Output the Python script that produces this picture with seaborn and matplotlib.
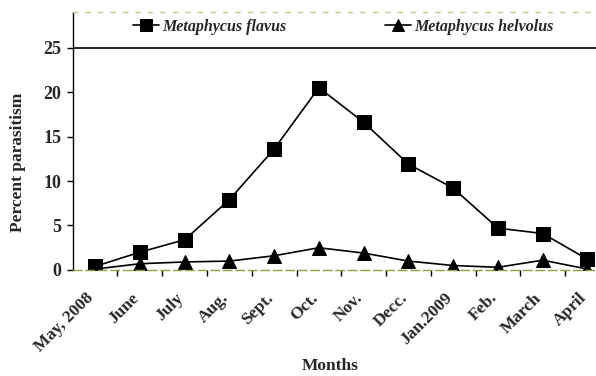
import matplotlib
matplotlib.use("Agg")
import matplotlib.pyplot as plt
import matplotlib.transforms as mtransforms
import seaborn as sns
import pandas as pd
from matplotlib.ticker import FixedLocator, NullFormatter

months = ["May, 2008", "June", "July", "Aug.", "Sept.", "Oct.", "Nov.", "Decc.",
          "Jan.2009", "Feb.", "March", "April"]
flavus = [0.4, 2.0, 3.4, 7.9, 13.6, 20.5, 16.6, 11.9, 9.2, 4.7, 4.1, 1.2]
helvolus = [0.1, 0.7, 0.9, 1.0, 1.6, 2.5, 1.9, 1.0, 0.5, 0.3, 1.1, 0.1]
yticks = [0, 5, 10, 15, 20, 25]

sns.set_theme(style="white")
plt.rcParams['font.family'] = ['Liberation Serif', 'DejaVu Serif']

df = pd.DataFrame({"x": list(range(len(months))) * 2,
                   "y": flavus + helvolus,
                   "series": ["Metaphycus flavus"] * len(months) + ["Metaphycus helvolus"] * len(months)})

fig = plt.figure(figsize=(5.96, 3.76), dpi=100)
ax = fig.add_axes([0.122, 0.282, 0.89, 0.686])

sns.lineplot(data=df[df.series == "Metaphycus flavus"], x="x", y="y", ax=ax,
             color="black", marker="s", markersize=10, linewidth=1.2,
             markeredgecolor="black", label="Metaphycus flavus")
sns.lineplot(data=df[df.series == "Metaphycus helvolus"], x="x", y="y", ax=ax,
             color="black", marker="^", markersize=10, linewidth=1.2,
             markeredgecolor="black", label="Metaphycus helvolus")

ax.set_xlim(-0.5, 11.35)
ax.set_ylim(0, 29)
ax.axhline(25, color="black", linewidth=1.2)

ax.set_yticks(yticks)
ax.set_yticklabels([str(v) for v in yticks], fontsize=13, fontweight="bold")
ax.set_xticks(range(len(months)))
ax.xaxis.set_major_formatter(NullFormatter())
offset = mtransforms.ScaledTranslation(-9 / 100, -20 / 100, fig.dpi_scale_trans)
for i, m in enumerate(months):
    ax.text(i, 0, m, transform=ax.get_xaxis_transform() + offset, rotation=45,
            ha="right", va="top", rotation_mode="anchor", fontsize=12.5, fontweight="bold")
ax.xaxis.set_minor_locator(FixedLocator([i + 0.5 for i in range(len(months))]))
ax.tick_params(axis="x", which="major", length=0)
ax.tick_params(axis="x", which="minor", length=4, width=1, color="black", direction="out", bottom=True)
ax.tick_params(axis="y", which="major", length=4, width=1, color="black", direction="out", left=True, pad=4)

ax.spines["right"].set_visible(False)
ax.spines["left"].set_color("black")
ax.spines["left"].set_linewidth(1.0)
ax.spines["bottom"].set_color("#9a9a40")
ax.spines["bottom"].set_linestyle((0, (6, 3)))
ax.spines["bottom"].set_linewidth(1.0)
ax.spines["top"].set_color("#c8c890")
ax.spines["top"].set_linestyle((0, (3, 6)))
ax.spines["top"].set_linewidth(1.0)

ax.set_xlabel("")
ax.set_ylabel("")
fig.text(330 / 596, 1 - 366 / 376, "Months", fontsize=12.5, fontweight="bold",
         ha="center", va="center")
fig.text(18 / 596, 1 - 162 / 376, "Percent parasitism", fontsize=12.5, fontweight="bold",
         ha="center", va="center", rotation=90)

leg = ax.legend(loc="upper center", bbox_to_anchor=(0.51, 1.03), ncol=2, frameon=False,
                prop={"style": "italic", "weight": "bold", "size": 11.5, "family": "Liberation Serif"},
                handlelength=1.6, handletextpad=0.2, columnspacing=6.2, markerscale=0.85)

fig.savefig("out.png", dpi=100)
